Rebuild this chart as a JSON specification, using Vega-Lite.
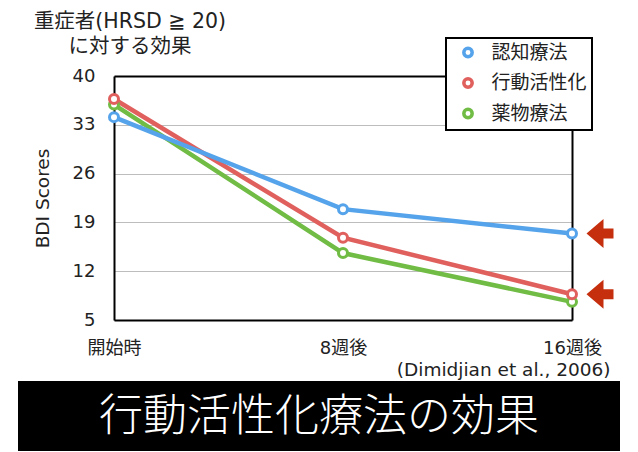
{
  "$schema": "https://vega.github.io/schema/vega-lite/v6.json",
  "background": "white",
  "padding": {"left": 18, "top": 11, "right": 18, "bottom": 1},
  "config": {
    "font": "DejaVu Sans, Noto Sans CJK JP",
    "view": {"stroke": null},
    "axis": {
      "domainColor": "black",
      "domainWidth": 2,
      "ticks": false,
      "labelFontSize": 18,
      "labelColor": "#222",
      "titleColor": "#222",
      "titleFontWeight": "normal",
      "labelOverlap": false
    },
    "legend": {
      "orient": "none",
      "legendX": 428,
      "legendY": -38,
      "strokeColor": "black",
      "strokeWidth": 2,
      "fillColor": "white",
      "padding": 5,
      "rowPadding": 7.5,
      "labelFontSize": 19,
      "labelOffset": 14,
      "labelColor": "#222",
      "symbolType": "circle",
      "symbolSize": 70,
      "symbolStrokeWidth": 3.5,
      "symbolOffset": 7.5
    }
  },
  "datasets": {
    "scores": [
      {"group": "薬物療法", "week": "開始時", "score": 35.9},
      {"group": "薬物療法", "week": "8週後", "score": 14.6},
      {"group": "薬物療法", "week": "16週後", "score": 7.6},
      {"group": "行動活性化", "week": "開始時", "score": 36.7},
      {"group": "行動活性化", "week": "8週後", "score": 16.8},
      {"group": "行動活性化", "week": "16週後", "score": 8.7},
      {"group": "認知療法", "week": "開始時", "score": 34.1},
      {"group": "認知療法", "week": "8週後", "score": 20.9},
      {"group": "認知療法", "week": "16週後", "score": 17.4}
    ],
    "arrows": [
      {"week": "16週後", "score": 17.4},
      {"week": "16週後", "score": 8.7}
    ],
    "banner": [
      {"label": "行動活性化療法の効果"}
    ]
  },
  "vconcat": [
    {
      "width": 602,
      "height": 244,
      "title": {
        "text": ["重症者(HRSD ≧ 20)", "に対する効果"],
        "anchor": "start",
        "frame": "group",
        "align": "center",
        "dx": 112,
        "fontSize": 20.5,
        "fontWeight": "normal",
        "lineHeight": 25,
        "baseline": "bottom",
        "offset": -10,
        "color": "#222"
      },
      "layer": [
        {
          "data": {"name": "scores"},
          "mark": {"type": "line", "strokeWidth": 4.5},
          "encoding": {
            "x": {
              "field": "week",
              "type": "ordinal",
              "sort": ["開始時", "8週後", "16週後"],
              "scale": {"type": "point", "range": [96, 554], "padding": 0},
              "axis": {
                "orient": "bottom",
                "labelAngle": 0,
                "labelPadding": 19,
                "labelFlush": false,
                "grid": false,
                "title": "(Dimidjian et al., 2006)",
                "titleX": 592,
                "titleY": 49,
                "titleAlign": "right",
                "titleBaseline": "middle",
                "titleFontSize": 18.5
              }
            },
            "y": {
              "field": "score",
              "type": "quantitative",
              "scale": {"domain": [5, 40], "nice": false, "zero": false},
              "axis": {
                "orient": "left",
                "offset": -96,
                "values": [5, 12, 19, 26, 33, 40],
                "grid": true,
                "gridColor": "#bdbdbd",
                "gridWidth": 1,
                "labelPadding": 19,
                "title": "BDI Scores",
                "titleFontSize": 18.5,
                "titlePadding": 20
              }
            },
            "color": {
              "field": "group",
              "type": "nominal",
              "scale": {
                "domain": ["認知療法", "行動活性化", "薬物療法"],
                "range": ["#55a3ea", "#e0605e", "#70bc44"]
              },
              "legend": {"title": null}
            }
          }
        },
        {
          "data": {"name": "scores"},
          "mark": {"type": "point", "filled": false, "fill": "white", "fillOpacity": 1, "opacity": 1, "size": 81, "strokeWidth": 3},
          "encoding": {
            "x": {
              "field": "week",
              "type": "ordinal",
              "sort": ["開始時", "8週後", "16週後"],
              "scale": {"type": "point", "range": [96, 554], "padding": 0},
              "axis": {"orient": "top", "labels": false, "grid": false, "title": null}
            },
            "y": {
              "field": "score",
              "type": "quantitative",
              "scale": {"domain": [5, 40], "nice": false, "zero": false},
              "axis": {"orient": "right", "offset": -48, "labels": false, "grid": false, "title": null}
            },
            "color": {
              "field": "group",
              "type": "nominal",
              "scale": {
                "domain": ["認知療法", "行動活性化", "薬物療法"],
                "range": ["#55a3ea", "#e0605e", "#70bc44"]
              },
              "legend": {"title": null}
            }
          }
        },
        {
          "data": {"name": "arrows"},
          "mark": {
            "type": "point",
            "shape": "M1.45,0L3.15,-1.45L3.15,-0.5L4.15,-0.5L4.15,0.5L3.15,0.5L3.15,1.45Z",
            "size": 400,
            "filled": true,
            "opacity": 1,
            "color": "#c52f0e",
            "strokeWidth": 0
          },
          "encoding": {
            "x": {
              "field": "week",
              "type": "ordinal",
              "sort": ["開始時", "8週後", "16週後"],
              "scale": {"type": "point", "range": [96, 554], "padding": 0},
              "axis": null
            },
            "y": {
              "field": "score",
              "type": "quantitative",
              "scale": {"domain": [5, 40], "nice": false, "zero": false},
              "axis": null
            }
          }
        }
      ],
      "resolve": {"axis": {"x": "independent", "y": "independent"}}
    },
    {
      "data": {"name": "banner"},
      "width": 602,
      "height": 70,
      "view": {"fill": "black", "stroke": null},
      "mark": {"type": "text", "color": "white", "fontSize": 44, "font": "Noto Sans CJK JP", "fontWeight": 300, "baseline": "middle", "dy": 2},
      "encoding": {
        "text": {"field": "label", "type": "nominal"}
      }
    }
  ],
  "spacing": 61,
  "bounds": "flush"
}
